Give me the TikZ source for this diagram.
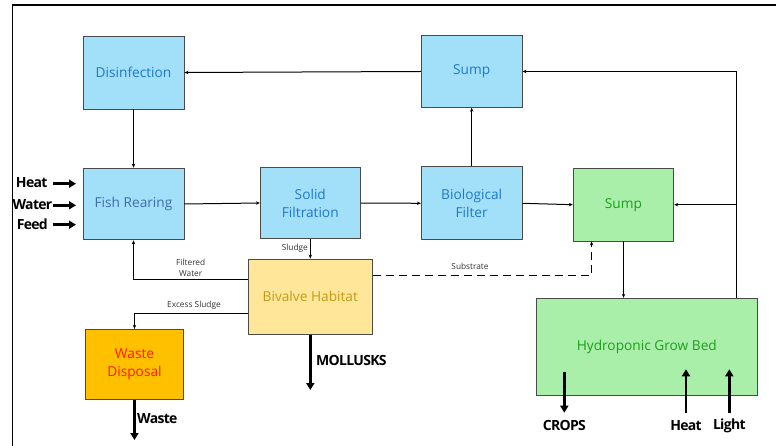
\documentclass[tikz,border=0pt]{standalone}
\usepackage{fontspec}
\setmainfont{Open Sans}
\usetikzlibrary{arrows.meta,calc}

\definecolor{blueFill}{HTML}{A2E0FA}
\definecolor{blueText}{HTML}{1F78C8}
\definecolor{blueTextDark}{HTML}{3E6CAE}
\definecolor{greenFill}{HTML}{A9EEA9}
\definecolor{greenText}{HTML}{1E9E1E}
\definecolor{sandFill}{HTML}{FFE699}
\definecolor{sandText}{HTML}{C49A16}
\definecolor{wasteFill}{HTML}{FFC000}
\definecolor{wasteText}{HTML}{FF1A00}
\definecolor{edgeGray}{HTML}{4A4A4A}
\definecolor{noteGray}{HTML}{333333}

\tikzset{
  unitbox/.style={draw=edgeGray, line width=0.9pt, align=center,
    font=\fontsize{13.7}{18}\selectfont, inner sep=0pt},
  bluebox/.style={unitbox, fill=blueFill, text=blueText},
  greenbox/.style={unitbox, fill=greenFill, text=greenText},
  sandbox/.style={unitbox, fill=sandFill, text=sandText},
  wastebox/.style={unitbox, fill=wasteFill, text=wasteText},
  flow/.style={line width=1pt, draw=black, -{Stealth[length=4pt,width=3.4pt]}},
  dashflow/.style={flow, dash pattern=on 8pt off 5pt, line width=1.2pt},
  bigflow/.style={line width=2.8pt, -{Triangle[length=7pt,width=8pt]}},
  note/.style={font=\fontsize{8.3}{10.7}\selectfont, text=noteGray, align=center, inner sep=0pt},
  bignote/.style={font=\bfseries\fontsize{14}{16}\selectfont\addfontfeatures{LetterSpace=-5}, inner sep=0pt}
}

\begin{document}
\begin{tikzpicture}[x=1pt,y=-1pt]
\useasboundingbox (0,0) rectangle (776,446);
\fill[white] (0,0) rectangle (776,446);

% outer frame (open on the right and bottom)
\draw[line width=1.7pt] (776,5) -- (12.5,5) -- (12.5,446);

% process units
\node[bluebox, minimum width=101pt, minimum height=73pt] (dis) at (133.5,72.5) {Disinfection};
\node[bluebox, minimum width=100.7pt, minimum height=71.6pt] (sumpA) at (471.7,71.5) {Sump};
\node[bluebox, text=blueTextDark, minimum width=101pt, minimum height=71.7pt] (fish) at (133.5,204) {Fish Rearing};
\node[bluebox, minimum width=100pt, minimum height=71.4pt] (solid) at (310.3,203) {Solid\\Filtration};
\node[bluebox, minimum width=100.7pt, minimum height=72.7pt] (bio) at (471.7,203.3) {Biological\\Filter};
\node[greenbox, minimum width=100.4pt, minimum height=72.7pt] (sumpB) at (623.5,204.7) {Sump};
\node[sandbox, minimum width=124pt, minimum height=75.3pt] (bival) at (310.3,296.7) {Bivalve Habitat};
\node[wastebox, minimum width=97.6pt, minimum height=70.4pt] (waste) at (134.5,364.5) {Waste\\Disposal};
\node[greenbox, minimum width=221pt, minimum height=97pt] (hydro) at (646.8,346.8) {Hydroponic Grow Bed};

% main water loop
\draw[flow] (sumpA.west) -- (dis.east);
\draw[flow] (dis.south) -- (fish.north);
\draw[flow] (fish.east) -- (solid.west);
\draw[flow] (solid.east) -- (bio.west);
\draw[flow] (bio.east) -- (sumpB.west);
\draw[flow] (bio.north) -- (sumpA.south);
\draw[flow] (sumpB.south) -- (sumpB.south |- hydro.north);

% return from the grow bed
\coordinate (ret) at ($(hydro.north east)+(-21,0)$);
\draw[flow] (ret) |- (sumpA.east);
\draw[flow] (ret |- sumpB.east) -- (sumpB.east);

% bivalve branch
\draw[flow] (solid.south) -- (bival.north);
\node[note, anchor=east] (sludgeLbl) at (308,248.3) {Sludge};
\coordinate (fwOut) at ($(bival.north west)+(0,21.3)$);
\draw[flow] (fwOut) -| (fish.south);
\node[note] (fwLbl) at (190.7,268) {Filtered\\Water};
\coordinate (esOut) at ($(bival.south west)+(0,-21.3)$);
\draw[flow] (esOut) -| (waste.north);
\node[note] (esLbl) at (194,305) {Excess Sludge};
\coordinate (subOut) at ($(bival.north east)+(0,17)$);
\coordinate (subIn) at ($(sumpB.south west)+(18.7,0)$);
\draw[dashflow] (subOut) -| (subIn);
\node[note] (subLbl) at (470,266.7) {Substrate};

% inputs to fish rearing
\coordinate (hA) at (53,183.7);  \coordinate (hB) at (76,183.7);
\coordinate (wA) at (53,205.3);  \coordinate (wB) at (76,205.3);
\coordinate (fA) at (53,224.7);  \coordinate (fB) at (76,224.7);
\draw[bigflow] (hA) -- (hB);
\draw[bigflow] (wA) -- (wB);
\draw[bigflow] (fA) -- (fB);
\node[bignote] (heatL) at (31.7,183) {Heat};
\node[bignote] (waterL) at (32.5,205) {Water};
\node[bignote] (feedL) at (32.3,224.5) {Feed};

% products and inputs
\coordinate (wasteEnd) at (134.5,440);
\draw[bigflow] (waste.south) -- (wasteEnd);
\node[bignote, anchor=west] (wasteL) at (137,418.5) {Waste};

\coordinate (mollEnd) at (310.3,390);
\draw[bigflow] (bival.south) -- (mollEnd);
\node[bignote, anchor=west] (mollL) at (316,360.5) {MOLLUSKS};

\coordinate (cropA) at (564.3,371.7); \coordinate (cropB) at (564.3,412.7);
\draw[bigflow] (cropA) -- (cropB);
\node[bignote] (cropL) at (564.3,425.5) {CROPS};

\coordinate (heatA) at (686,412.7); \coordinate (heatB) at (686,369.3);
\draw[bigflow] (heatA) -- (heatB);
\node[bignote] (heatR) at (686,425.5) {Heat};

\coordinate (lightA) at (729.3,412.7); \coordinate (lightB) at (729.3,369.3);
\draw[bigflow] (lightA) -- (lightB);
\node[bignote] (lightR) at (729.3,425.5) {Light};
\end{tikzpicture}
\end{document}
